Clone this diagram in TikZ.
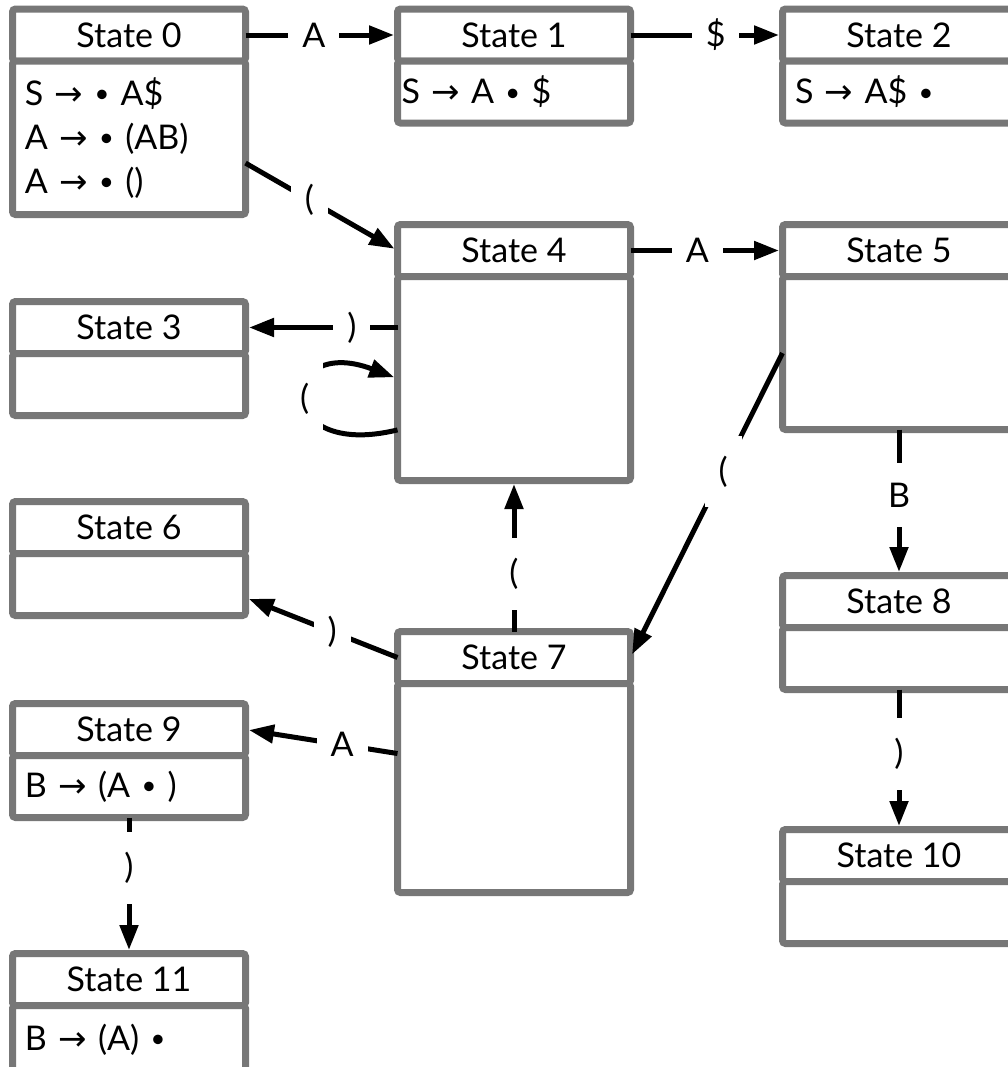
\documentclass[tikz,border=0pt]{standalone}
\usepackage{fontspec}
\setmainfont{Lato}
\newfontfamily\arrowfont{DejaVu Sans}
\usetikzlibrary{positioning}
\usetikzlibrary{calc}
\usetikzlibrary{arrows.meta}

\definecolor{boxgray}{HTML}{777777}
\newcommand{\yields}{{\arrowfont →}}
\newcommand{\itemdot}{\raisebox{0.15ex}{\scalebox{0.75}{•}}}

\tikzset{
  statehead/.style={draw=boxgray, line width=3.5pt, rounded corners=1.5pt, fill=white,
    minimum width=116.5pt, minimum height=26pt, inner sep=0pt, outer sep=0pt,
    font={\fontsize{17}{22}\selectfont}},
  statebody/.style={statehead, minimum height=31pt, text width=104pt, inner xsep=6.25pt, align=left},
  trans/.style={line width=2.5pt, -{Triangle[length=12.5pt,width=9pt]}, shorten >=1.75pt},
  sym/.style={fill=white, inner xsep=7pt, inner ysep=10pt, font={\fontsize{17}{22}\selectfont}},
}

\begin{document}
\begin{tikzpicture}[x=0.5pt, y=-0.5pt]
	\useasboundingbox (0,0) rectangle (1008,1067);
	\clip (0,0) rectangle (1008,1067);

	\node[statehead, anchor=north west] (s0) at (12.5,9) {State 0};
	\node[statebody, below=0pt of s0, minimum height=76.75pt] (s0b) {S \yields{} \itemdot{} A\$\\A \yields{} \itemdot{} (AB)\\A \yields{} \itemdot{} ()};
	\node[statehead, anchor=north west] (s1) at (397.5,9) {State 1};
	\node[statebody, below=0pt of s1, inner xsep=2pt, text width=112.5pt] (s1b) {S \yields{} A \itemdot{} \$};
	\node[statehead, anchor=north west] (s2) at (782.5,9) {State 2};
	\node[statebody, below=0pt of s2] (s2b) {S \yields{} A\$ \itemdot};
	\node[statehead, anchor=north west] (s3) at (12.5,301.5) {State 3};
	\node[statebody, below=0pt of s3] (s3b) {};
	\node[statehead, anchor=north west] (s4) at (397.5,224.5) {State 4};
	\node[statebody, below=0pt of s4, minimum height=102pt] (s4b) {};
	\node[statehead, anchor=north west] (s5) at (782.5,224.5) {State 5};
	\node[statebody, below=0pt of s5, minimum height=76.5pt] (s5b) {};
	\node[statehead, anchor=north west] (s6) at (12.5,501.5) {State 6};
	\node[statebody, below=0pt of s6] (s6b) {};
	\node[statehead, anchor=north west] (s7) at (397.5,631.5) {State 7};
	\node[statebody, below=0pt of s7, minimum height=104.5pt] (s7b) {};
	\node[statehead, anchor=north west] (s8) at (782.5,575.5) {State 8};
	\node[statebody, below=0pt of s8] (s8b) {};
	\node[statehead, anchor=north west] (s9) at (12.5,703.5) {State 9};
	\node[statebody, below=0pt of s9] (s9b) {B \yields{} (A \itemdot{} )};
	\node[statehead, anchor=north west] (s10) at (782.5,829.5) {State 10};
	\node[statebody, below=0pt of s10] (s10b) {};
	\node[statehead, anchor=north west] (s11) at (12.5,953.5) {State 11};
	\node[statebody, below=0pt of s11, minimum height=34pt] (s11b) {B \yields{} (A) \itemdot};

	\draw[trans] (s0.east) -- node[sym, pos=0.45] {A} (s1.west);
	\draw[trans] (s1.east) -- node[sym, pos=0.56] {\$} (s2.west);
	\draw[trans] ($(s0b.north east)!0.665!(s0b.south east)$) -- node[sym, pos=0.42] {(} (s4.west);
	\draw[trans] (s4.east) -- node[sym, pos=0.44] {A} (s5.west);
	\draw[trans] ($(s4b.north west)!0.25!(s4b.south west)$) -- node[sym, pos=0.3] {)} (s3.east);
	\draw[trans] ($(s4b.north west)!0.752!(s4b.south west)$) .. controls ($(s4b.west)+(-127.5,82.5)$) and ($(s4b.west)+(-120,-45)$) .. (s4b.west) node[sym, pos=0.5] {(};
	\draw[trans] (s5b.west) -- node[sym, pos=0.39] {(} (s7.east);
	\draw[trans] (s7.north) -- node[sym, pos=0.38] {(} (s4b.south);
	\draw[trans] (s7.west) -- node[sym, pos=0.43] {)} ($(s6b.north east)!0.71!(s6b.south east)$);
	\draw[trans] ($(s7b.north west)!0.335!(s7b.south west)$) -- node[sym, pos=0.365] {A} (s9.east);
	\draw[trans] (s5b.south) -- node[sym, pos=0.45] {B} (s8.north);
	\draw[trans] (s8b.south) -- node[sym, pos=0.46] {)} (s10.north);
	\draw[trans] (s9b.south) -- node[sym, pos=0.37] {)} (s11.north);
\end{tikzpicture}
\end{document}
